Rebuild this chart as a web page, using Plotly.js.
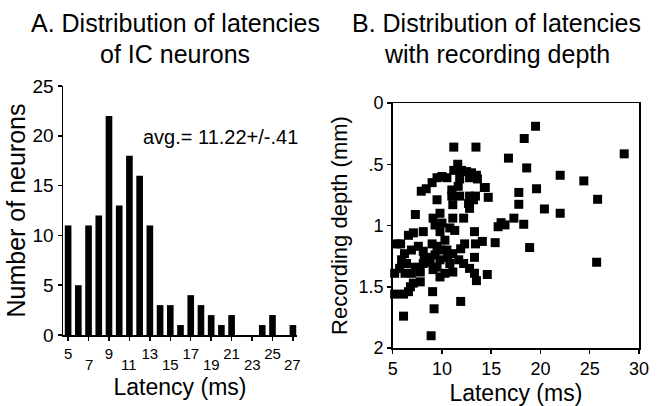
<!DOCTYPE html>
<html>
<head>
<meta charset="utf-8">
<script src="https://cdn.plot.ly/plotly-3.0.1.min.js"></script>
<style>html,body{margin:0;padding:0;background:#fff}#chart{width:664px;height:406px}</style>
</head>
<body>
<div id="chart"></div>
<script>
// Panel A: latency histogram
const latencyBins = [5,6,7,8,9,10,11,12,13,14,15,16,17,18,19,20,21,22,23,24,25,26,27];
const neuronCounts = [11,5,11,12,22,13,18,16,11,3,3,1,4,3,2,1,2,0,0,1,2,0,1];
const histTickVals = [5,7,9,11,13,15,17,19,21,23,25,27];
const histTickRow1 = ["5","","9","","13","","17","","21","","25",""];
const histTickRow2Vals = [7,11,15,19,23,27];
const histTickRow2 = ["7","11","15","19","23","27"];

// Panel B: latency vs recording depth
const scatterLatency = [
 19.5,18.35,11.2,13.45,28.5,16.75,18.6,22.0,24.4,19.6,17.8,25.8,17.8,20.4,22.0,17.3,16.0,15.7,16.4,18.3,15.4,18.9,25.7,14.6,11.9,9.05,9.2,6.1,8.9,14.7,14.3,
 11.6,11.2,9.5,10.0,10.5,9.0,7.9,8.4,12.0,12.5,13.0,13.5,11.8,12.8,13.6,14.4,11.0,11.65,11.0,11.8,12.8,13.4,9.5,11.1,12.7,13.2,
 7.3,9.8,9.1,11.1,12.2,12.8,9.3,10.0,11.3,10.8,8.1,7.1,6.6,9.8,10.3,13.3,5.4,5.8,9.0,7.6,6.9,8.1,9.5,9.9,11.1,11.9,12.3,13.4,14.1,
 5.9,6.4,8.2,8.6,9.3,9.8,10.6,11.7,12.2,13.3,8.8,8.1,7.3,5.7,5.2,6.25,6.9,7.8,9.5,9.8,10.3,11.1,12.8,13.3,13.5,7.8,7.1,6.8,5.2,6.1,6.6,10.8,9.1,10.5,6.2
];
const scatterDepth = [
 0.19,0.29,0.36,0.36,0.415,0.45,0.53,0.59,0.636,0.70,0.73,0.786,0.827,0.865,0.90,0.94,0.977,1.01,0.995,0.99,1.14,1.18,1.30,1.40,1.62,1.54,1.68,1.74,1.90,0.77,0.69,
 0.50,0.55,0.61,0.60,0.61,0.65,0.72,0.70,0.55,0.56,0.57,0.59,0.62,0.61,0.62,0.69,0.71,0.68,0.76,0.76,0.76,0.76,0.79,0.83,0.82,0.79,
 0.91,0.90,0.94,0.94,0.94,0.86,0.996,0.98,1.04,1.02,1.05,1.06,1.08,1.05,1.12,1.05,1.15,1.15,1.15,1.17,1.20,1.21,1.17,1.20,1.23,1.19,1.15,1.15,1.13,
 1.28,1.31,1.26,1.26,1.24,1.28,1.26,1.28,1.31,1.26,1.30,1.31,1.34,1.35,1.39,1.39,1.39,1.38,1.34,1.42,1.39,1.38,1.35,1.39,1.45,1.46,1.47,1.50,1.56,1.56,1.54,1.31,1.36,1.20,1.23
];
const depthTickVals = [0,0.5,1,1.5,2];
const depthTickText = ["0",".5","1","1.5","2"];

const FONT = '"Liberation Sans", Arial, Helvetica, sans-serif';
const W = 664, H = 406;
const px = v => v / W;
const py = v => (H - v) / H;

const traces = [
  {type:'bar', x: latencyBins, y: neuronCounts, width: 0.65,
   marker:{color:'#000', line:{width:0}}, xaxis:'x', yaxis:'y', hoverinfo:'x+y'},
  {type:'scatter', mode:'markers', x: scatterLatency, y: scatterDepth,
   marker:{symbol:'square', size:9, color:'#000'}, cliponaxis:false,
   xaxis:'x2', yaxis:'y2'}
];

const axCommon = {showgrid:false, zeroline:false, showline:true, linecolor:'#000', linewidth:1.5,
  ticks:'outside', ticklen:4, tickwidth:1.5, tickcolor:'#000', automargin:false,
  tickfont:{family:FONT, size:17, color:'#000'}};

const annotations = [
  {xref:'paper', yref:'paper', x:px(175), y:py(23), xanchor:'center', yanchor:'middle', showarrow:false,
   text:'A. Distribution of latencies', font:{family:FONT, size:25, color:'#000'}},
  {xref:'paper', yref:'paper', x:px(175), y:py(54), xanchor:'center', yanchor:'middle', showarrow:false,
   text:'of IC neurons', font:{family:FONT, size:25, color:'#000'}},
  {xref:'paper', yref:'paper', x:px(496.5), y:py(23), xanchor:'center', yanchor:'middle', showarrow:false,
   text:'B. Distribution of latencies', font:{family:FONT, size:25, color:'#000'}},
  {xref:'paper', yref:'paper', x:px(496.5), y:py(54), xanchor:'center', yanchor:'middle', showarrow:false,
   text:'with recording depth', font:{family:FONT, size:25, color:'#000'}},
  {xref:'paper', yref:'paper', x:px(220), y:py(137), xanchor:'center', yanchor:'middle', showarrow:false,
   text:'avg.= 11.22+/-.41', font:{family:FONT, size:20, color:'#000'}}
];
// second (staggered) row of x tick labels for panel A, placed on the data x scale
histTickRow2Vals.forEach((v, i) => annotations.push({
  xref:'x', yref:'paper', x:v, y:py(364), xanchor:'center', yanchor:'middle', showarrow:false,
  text: histTickRow2[i], font:{family:FONT, size:15, color:'#000'}
}));

const layout = {
  width: W, height: H, margin:{l:0,r:0,t:0,b:0}, paper_bgcolor:'#fff', plot_bgcolor:'#fff',
  showlegend:false, font:{family:FONT, color:'#000'},
  xaxis: Object.assign({}, axCommon, {domain:[px(63), px(297)], range:[4.5, 27.4], anchor:'y',
    tickmode:'array', tickvals: histTickVals, ticktext: histTickRow1,
    tickfont:{family:FONT, size:15, color:'#000'},
    title:{text:'Latency (ms)', font:{family:FONT, size:23, color:'#000'}, standoff:18}}),
  yaxis: Object.assign({}, axCommon, {domain:[py(335), py(86)], range:[0,25], anchor:'x',
    tickmode:'array', tickvals:[0,5,10,15,20,25], tickfont:{family:FONT, size:19, color:'#000'},
    title:{text:'Number of neurons', font:{family:FONT, size:25, color:'#000'}, standoff:0}}),
  xaxis2: Object.assign({}, axCommon, {domain:[px(392.7), px(639)], range:[5,30], anchor:'y2',
    mirror:true, tickmode:'array', tickvals:[5,10,15,20,25,30],
    tickfont:{family:FONT, size:18, color:'#000'},
    title:{text:'Latency (ms)', font:{family:FONT, size:23, color:'#000'}, standoff:10}}),
  yaxis2: Object.assign({}, axCommon, {domain:[py(348), py(103)], range:[2,0], anchor:'x2',
    mirror:true, tickmode:'array', tickvals: depthTickVals, ticktext: depthTickText,
    tickfont:{family:FONT, size:18, color:'#000'},
    title:{text:'Recording depth (mm)', font:{family:FONT, size:22, color:'#000'}, standoff:5}}),
  annotations: annotations
};

Plotly.newPlot('chart', traces, layout, {displayModeBar:false, staticPlot:true});
</script>
</body>
</html>
